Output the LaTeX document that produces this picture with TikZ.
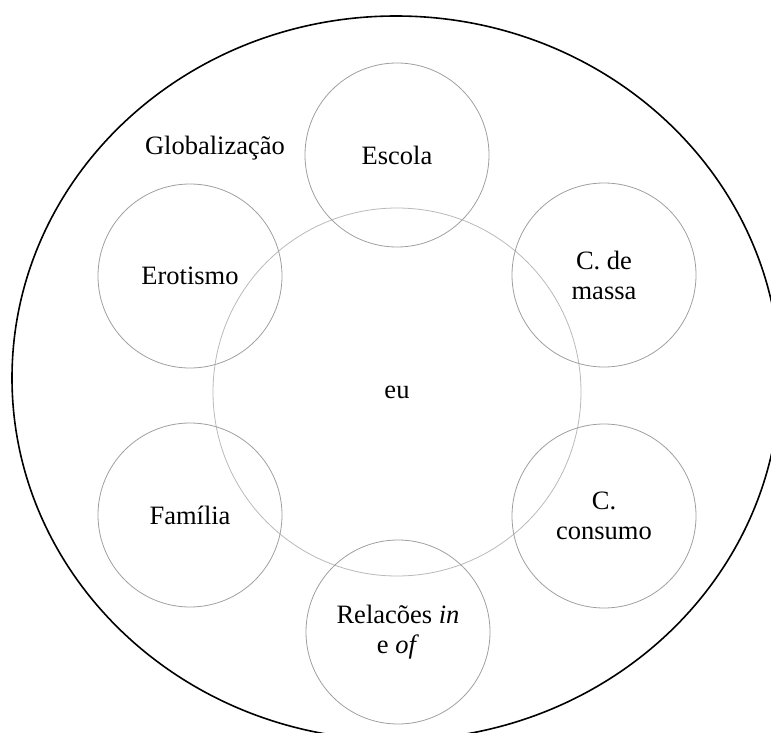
\documentclass[tikz,border=0pt]{standalone}
\usepackage{fontspec}
\setmainfont{Liberation Serif}
\usetikzlibrary{shapes.geometric}
\tikzset{
  sphere/.style={circle, draw=gray!75, line width=0.8pt, minimum size=184pt, inner sep=0pt, align=center,
    font=\fontsize{26.5pt}{30pt}\selectfont},
  core/.style={circle, draw=gray!55, line width=0.8pt, minimum size=368pt, inner sep=0pt,
    font=\fontsize{26.5pt}{30pt}\selectfont},
  outerring/.style={ellipse, draw=black, line width=1.6pt, minimum width=768pt, minimum height=724pt, inner sep=0pt},
  label/.style={font=\fontsize{26.5pt}{30pt}\selectfont, inner sep=0pt}
}
\begin{document}
\begin{tikzpicture}[x=1pt,y=-1pt]
\useasboundingbox (0,0) rectangle (771,733);
\clip (0,0) rectangle (771,733);
\node[outerring] (outer) at (396,378) {};
\node[core] (eu) at (397,392) {eu};
\node[sphere] (escola) at (397,155) {Escola};
\node[sphere] (erotismo) at (190,276) {Erotismo};
\node[sphere] (massa) at (604,275) {C. de\\massa};
\node[sphere] (familia) at (190,515) {Família};
\node[sphere] (consumo) at (604,516) {C.\hspace{14pt}\\consumo};
\node[sphere] (relacoes) at (398,632) {Relacões \textit{in}\\e \textit{of}};
\node[label, anchor=base] (glob) at (215,155) {Globalização};
\end{tikzpicture}
\end{document}
